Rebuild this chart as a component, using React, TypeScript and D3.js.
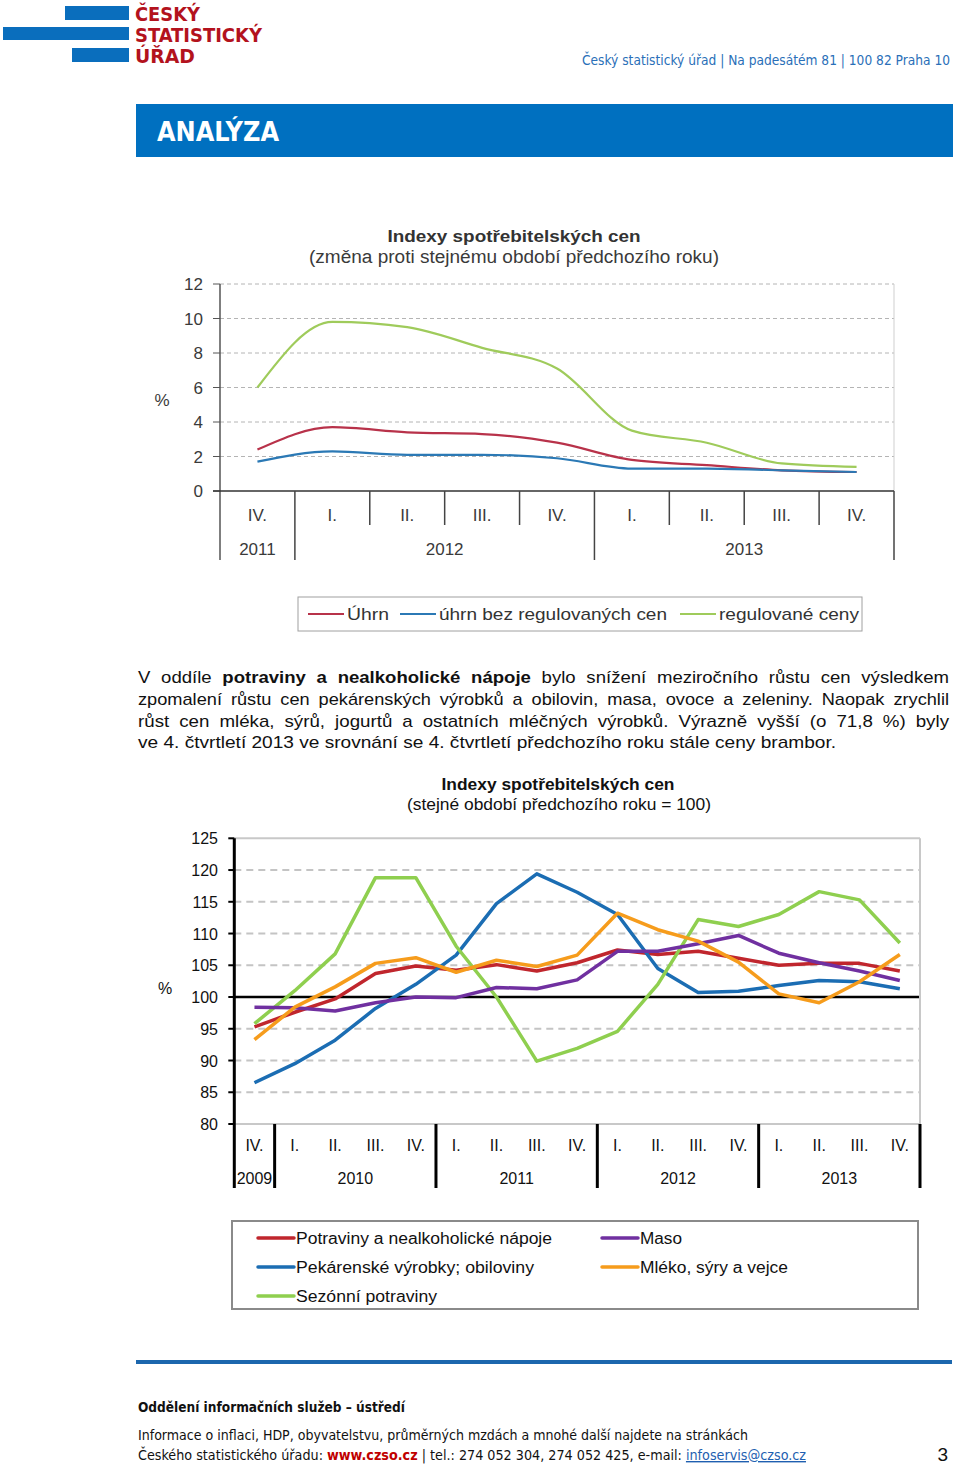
import { useEffect, useRef } from "react";
import * as d3 from "d3";

document.body.style.margin = "0";

// graf 1 – meziroční změna (%)
const quarters1 = ["IV.", "I.", "II.", "III.", "IV.", "I.", "II.", "III.", "IV."];
const years1 = ["2011", "2012", "2013"];
const yearSpans1 = [1, 4, 4];
const ticks1 = [0, 2, 4, 6, 8, 10, 12];
const uhrn = [2.4, 3.7, 3.4, 3.3, 2.8, 1.8, 1.5, 1.2, 1.1];
const uhrnBezReg = [1.7, 2.3, 2.1, 2.1, 1.9, 1.3, 1.3, 1.2, 1.1];
const regulovane = [6.0, 9.8, 9.5, 8.3, 7.1, 3.5, 2.8, 1.6, 1.4];
const names1 = ["Úhrn", "úhrn bez regulovaných cen", "regulované ceny"];
const colors1 = ["#b8324a", "#2b79b5", "#9fcb5b"];

// graf 2 – indexy (stejné období předchozího roku = 100)
const quarters2 = ["IV.", "I.", "II.", "III.", "IV.", "I.", "II.", "III.", "IV.", "I.", "II.", "III.", "IV.", "I.", "II.", "III.", "IV."];
const years2 = ["2009", "2010", "2011", "2012", "2013"];
const yearSpans2 = [1, 4, 4, 4, 4];
const ticks2 = [80, 85, 90, 95, 100, 105, 110, 115, 120, 125];
const potraviny = [95.3, 97.6, 99.7, 103.7, 104.9, 104.2, 105.1, 104.1, 105.4, 107.4, 106.7, 107.2, 106.1, 105.0, 105.3, 105.3, 104.1];
const pekarenske = [86.5, 89.5, 93.2, 98.2, 102.0, 106.6, 114.7, 119.4, 116.5, 113.0, 104.5, 100.7, 100.9, 101.8, 102.6, 102.4, 101.3];
const sezonni = [95.8, 101.0, 106.8, 118.8, 118.8, 108.0, 100.0, 89.9, 91.9, 94.6, 102.0, 112.2, 111.1, 113.0, 116.6, 115.3, 108.5];
const maso = [98.4, 98.3, 97.8, 99.1, 100.0, 99.9, 101.5, 101.3, 102.7, 107.2, 107.2, 108.4, 109.7, 106.9, 105.4, 104.1, 102.6];
const mleko = [93.3, 98.4, 101.6, 105.3, 106.2, 103.9, 105.8, 104.8, 106.6, 113.2, 110.6, 108.8, 105.5, 100.5, 99.1, 102.4, 106.7];
const names2 = ["Potraviny a nealkoholické nápoje", "Pekárenské výrobky; obiloviny", "Sezónní potraviny", "Maso", "Mléko, sýry a vejce"];
const colors2 = ["#c0262d", "#1b6db3", "#8fcf4f", "#7030a0", "#f69c1c"];

const FONT = "'Liberation Sans', Arial, sans-serif";
const NARROW = "'Liberation Sans Narrow', 'Arial Narrow', 'DejaVu Sans Condensed', sans-serif";

const App = () => {
  const svgRef = useRef<SVGSVGElement>(null);

  useEffect(() => {
    if (!svgRef.current) return;
    const svg = d3.select(svgRef.current);
    svg.selectAll("g.chart").remove();

    // zarovnání odstavce do bloku: část mezerami mezi slovy, zbytek roztažením
    svg.selectAll<SVGTextElement, unknown>("text.just").each(function () {
      const el = this;
      el.removeAttribute("textLength");
      el.setAttribute("word-spacing", "0");
      const natural = el.getComputedTextLength();
      const spaces = (el.textContent || "").split(" ").length - 1;
      const target = 811;
      if (spaces > 0 && target > natural) {
        el.setAttribute("word-spacing", String((0.45 * (target - natural)) / spaces));
      }
      el.setAttribute("textLength", String(target));
      el.setAttribute("lengthAdjust", "spacingAndGlyphs");
    });

    // ---------- graf 1 ----------
    {
      const g = svg.append("g").attr("class", "chart").style("font-family", FONT);
      const x0 = 220, x1 = 894;
      const x = d3.scaleBand<number>().domain(d3.range(quarters1.length)).range([x0, x1]);
      const y = d3.scaleLinear().domain([0, 12]).range([491, 284]);
      const bw = x.bandwidth();

      g.selectAll("line.grid")
        .data(ticks1.filter((t) => t > 0))
        .join("line")
        .attr("x1", x0).attr("x2", x1)
        .attr("y1", (d) => y(d)).attr("y2", (d) => y(d))
        .attr("stroke", "#b4b4b4")
        .attr("stroke-dasharray", "4,3");
      g.append("line").attr("x1", x1).attr("x2", x1).attr("y1", y(12)).attr("y2", y(0)).attr("stroke", "#cfcfcf");

      g.selectAll("line.ytick")
        .data(ticks1)
        .join("line")
        .attr("x1", x0 - 7).attr("x2", x0)
        .attr("y1", (d) => y(d)).attr("y2", (d) => y(d))
        .attr("stroke", "#555");
      g.selectAll("text.ylab")
        .data(ticks1)
        .join("text")
        .attr("x", 203).attr("y", (d) => y(d) + 6)
        .attr("text-anchor", "end")
        .attr("font-size", 17).attr("fill", "#3a3a3a")
        .text((d) => d);
      g.append("text").attr("x", 162).attr("y", 406).attr("text-anchor", "middle").attr("font-size", 17).attr("fill", "#3a3a3a").text("%");

      g.append("line").attr("x1", x0).attr("x2", x0).attr("y1", y(12)).attr("y2", 560).attr("stroke", "#555").attr("stroke-width", 1.5);
      g.append("line").attr("x1", x0 - 7).attr("x2", x1).attr("y1", y(0)).attr("y2", y(0)).attr("stroke", "#333").attr("stroke-width", 1.5);

      const yearBounds = d3.cumsum(yearSpans1);
      d3.range(1, quarters1.length + 1).forEach((i) => {
        const isYear = yearBounds.includes(i);
        g.append("line")
          .attr("x1", x0 + i * bw).attr("x2", x0 + i * bw)
          .attr("y1", y(0)).attr("y2", isYear ? 560 : 525)
          .attr("stroke", "#444").attr("stroke-width", 1.5);
      });
      g.selectAll("text.q")
        .data(quarters1)
        .join("text")
        .attr("x", (d, i) => x(i)! + bw / 2).attr("y", 521)
        .attr("text-anchor", "middle").attr("font-size", 17).attr("fill", "#3a3a3a")
        .text((d) => d);
      let start = 0;
      years1.forEach((yr, k) => {
        const mid = x0 + (start + yearSpans1[k] / 2) * bw;
        g.append("text").attr("x", mid).attr("y", 555).attr("text-anchor", "middle").attr("font-size", 17).attr("fill", "#3a3a3a").text(yr);
        start += yearSpans1[k];
      });

      const line = d3.line<number>()
        .x((d, i) => x(i)! + bw / 2)
        .y((d) => y(d))
        .curve(d3.curveMonotoneX);
      [uhrn, uhrnBezReg, regulovane].forEach((s, k) => {
        g.append("path").attr("d", line(s)).attr("fill", "none").attr("stroke", colors1[k]).attr("stroke-width", 2.2);
      });

      g.append("text").attr("x", 514).attr("y", 242).attr("text-anchor", "middle").attr("font-size", 17).attr("font-weight", "bold").attr("fill", "#333")
        .attr("textLength", 253).attr("lengthAdjust", "spacingAndGlyphs").text("Indexy spotřebitelských cen");
      g.append("text").attr("x", 514).attr("y", 263).attr("text-anchor", "middle").attr("font-size", 18).attr("fill", "#3a3a3a")
        .attr("textLength", 410).attr("lengthAdjust", "spacingAndGlyphs").text("(změna proti stejnému období předchozího roku)");

      // legenda
      g.append("rect").attr("x", 298).attr("y", 597).attr("width", 564).attr("height", 34).attr("fill", "white").attr("stroke", "#a0a0a0");
      const lx = [308, 400, 680];
      const tw = [42, 228, 140];
      names1.forEach((n, k) => {
        g.append("line").attr("x1", lx[k]).attr("x2", lx[k] + 36).attr("y1", 614).attr("y2", 614).attr("stroke", colors1[k]).attr("stroke-width", 2);
        g.append("text").attr("x", lx[k] + 39).attr("y", 620).attr("font-size", 17).attr("fill", "#333")
          .attr("textLength", tw[k]).attr("lengthAdjust", "spacingAndGlyphs").text(n);
      });
    }

    // ---------- graf 2 ----------
    {
      const g = svg.append("g").attr("class", "chart").style("font-family", FONT);
      const x0 = 234.3, x1 = 920;
      const x = d3.scaleBand<number>().domain(d3.range(quarters2.length)).range([x0, x1]);
      const y = d3.scaleLinear().domain([80, 125]).range([1124, 838.3]);
      const bw = x.bandwidth();

      g.selectAll("line.grid")
        .data(ticks2)
        .join("line")
        .attr("x1", x0).attr("x2", x1)
        .attr("y1", (d) => y(d)).attr("y2", (d) => y(d))
        .attr("stroke", (d) => (d === 100 ? "#000" : d === 80 || d === 125 ? "#c8c8c8" : "#c4c4c4"))
        .attr("stroke-width", (d) => (d === 100 ? 2.5 : 2))
        .attr("stroke-dasharray", (d) => (d === 100 || d === 80 || d === 125 ? null : "7,5"));
      g.append("line").attr("x1", x1).attr("x2", x1).attr("y1", y(125)).attr("y2", y(80)).attr("stroke", "#c8c8c8").attr("stroke-width", 2);

      g.selectAll("line.ytick")
        .data(ticks2)
        .join("line")
        .attr("x1", x0 - 6).attr("x2", x0)
        .attr("y1", (d) => y(d)).attr("y2", (d) => y(d))
        .attr("stroke", "#000").attr("stroke-width", 2);
      g.selectAll("text.ylab")
        .data(ticks2)
        .join("text")
        .attr("x", 218).attr("y", (d) => y(d) + 6)
        .attr("text-anchor", "end").attr("font-size", 16).attr("fill", "#111")
        .text((d) => d);
      g.append("text").attr("x", 165).attr("y", 994).attr("text-anchor", "middle").attr("font-size", 16).attr("fill", "#111").text("%");

      g.append("line").attr("x1", x0).attr("x2", x0).attr("y1", y(125)).attr("y2", 1188).attr("stroke", "#000").attr("stroke-width", 3);
      d3.cumsum(yearSpans2).forEach((b) => {
        g.append("line")
          .attr("x1", x0 + b * bw).attr("x2", x0 + b * bw)
          .attr("y1", y(80)).attr("y2", 1188)
          .attr("stroke", "#000").attr("stroke-width", 3);
      });
      g.selectAll("text.q")
        .data(quarters2)
        .join("text")
        .attr("x", (d, i) => x(i)! + bw / 2).attr("y", 1151)
        .attr("text-anchor", "middle").attr("font-size", 16).attr("fill", "#111")
        .text((d) => d);
      let start = 0;
      years2.forEach((yr, k) => {
        const mid = x0 + (start + yearSpans2[k] / 2) * bw;
        g.append("text").attr("x", mid).attr("y", 1184).attr("text-anchor", "middle").attr("font-size", 16).attr("fill", "#111").text(yr);
        start += yearSpans2[k];
      });

      const line = d3.line<number>()
        .x((d, i) => x(i)! + bw / 2)
        .y((d) => y(d));
      [potraviny, pekarenske, sezonni, maso, mleko].forEach((s, k) => {
        g.append("path").attr("d", line(s)).attr("fill", "none").attr("stroke", colors2[k])
          .attr("stroke-width", 3.5).attr("stroke-linejoin", "round");
      });

      g.append("text").attr("x", 558).attr("y", 790).attr("text-anchor", "middle").attr("font-size", 16).attr("font-weight", "bold").attr("fill", "#111")
        .attr("textLength", 233).attr("lengthAdjust", "spacingAndGlyphs").text("Indexy spotřebitelských  cen");
      g.append("text").attr("x", 559).attr("y", 810).attr("text-anchor", "middle").attr("font-size", 16).attr("fill", "#111")
        .attr("textLength", 304).attr("lengthAdjust", "spacingAndGlyphs").text("(stejné období předchozího roku = 100)");

      // legenda
      g.append("rect").attr("x", 232).attr("y", 1221).attr("width", 686).attr("height", 88).attr("fill", "white").attr("stroke", "#8a8a8a").attr("stroke-width", 2);
      const pos = [
        [258, 1238], [258, 1267], [258, 1296], [602, 1238], [602, 1267],
      ];
      const tw = [256, 238, 141, 42, 148];
      names2.forEach((n, k) => {
        const [lx, ly] = pos[k];
        g.append("line").attr("x1", lx).attr("x2", lx + 36).attr("y1", ly).attr("y2", ly).attr("stroke", colors2[k]).attr("stroke-width", 3.5).attr("stroke-linecap", "round");
        g.append("text").attr("x", lx + 38).attr("y", ly + 6).attr("font-size", 16).attr("fill", "#111")
          .attr("textLength", tw[k]).attr("lengthAdjust", "spacingAndGlyphs").text(n);
      });
    }
  }, []);

  return (
    <svg ref={svgRef} width={960} height={1465} style={{ display: "block", background: "white" }}>
      {/* logo */}
      <rect x={65} y={6} width={64} height={14} fill="#0a6ebd" />
      <rect x={3} y={27} width={126} height={13} fill="#0a6ebd" />
      <rect x={72} y={48} width={57} height={14} fill="#0a6ebd" />
      <g fill="#b3121d" fontFamily={NARROW} fontWeight="bold" fontSize={20}>
        <text x={135} y={21} textLength={65} lengthAdjust="spacingAndGlyphs">ČESKÝ</text>
        <text x={135} y={42} textLength={127} lengthAdjust="spacingAndGlyphs">STATISTICKÝ</text>
        <text x={135} y={63} textLength={60} lengthAdjust="spacingAndGlyphs">ÚŘAD</text>
      </g>
      <text x={582} y={65} fill="#2a6fb8" fontFamily={NARROW} fontSize={14} textLength={368} lengthAdjust="spacingAndGlyphs">
        Český statistický úřad | Na padesátém 81 | 100 82  Praha 10
      </text>

      {/* banner */}
      <rect x={136} y={104} width={817} height={53} fill="#0070c0" />
      <text x={157} y={141} fill="white" fontFamily={NARROW} fontWeight="bold" fontSize={27} textLength={122} lengthAdjust="spacingAndGlyphs">
        ANALÝZA
      </text>

      {/* odstavec */}
      <g fontFamily={FONT} fontSize={17} fill="#111">
        <text className="just" x={138} y={683}>
          V oddíle <tspan fontWeight="bold">potraviny a nealkoholické nápoje</tspan> bylo snížení meziročního růstu cen výsledkem
        </text>
        <text className="just" x={138} y={705}>
          zpomalení růstu cen pekárenských výrobků a obilovin, masa, ovoce a zeleniny. Naopak zrychlil
        </text>
        <text className="just" x={138} y={727}>
          růst cen mléka, sýrů, jogurtů a ostatních mléčných výrobků. Výrazně vyšší (o 71,8 %) byly
        </text>
        <text x={138} y={748} textLength={698} lengthAdjust="spacingAndGlyphs">
          ve 4. čtvrtletí 2013 ve srovnání se 4. čtvrtletí předchozího roku stále ceny brambor.
        </text>
      </g>

      {/* zápatí */}
      <rect x={136} y={1360} width={816} height={4} fill="#1c67ad" />
      <g fontFamily={NARROW} fontSize={14} fill="#111">
        <text x={138} y={1412} fontWeight="bold" textLength={267} lengthAdjust="spacingAndGlyphs">
          Oddělení informačních služeb – ústředí
        </text>
        <text x={138} y={1440} textLength={610} lengthAdjust="spacingAndGlyphs">
          Informace o inflaci, HDP, obyvatelstvu, průměrných mzdách a mnohé další najdete na stránkách
        </text>
        <text x={138} y={1460} textLength={668} lengthAdjust="spacingAndGlyphs">
          Českého statistického úřadu: <tspan fill="#c00000" fontWeight="bold">www.czso.cz</tspan>  |  tel.: 274 052 304, 274 052 425, e-mail:{" "}
          <tspan fill="#1f5fb0" textDecoration="underline">infoservis@czso.cz</tspan>
        </text>
        <text x={948} y={1461} textAnchor="end" fontSize={19} fontFamily={FONT}>3</text>
      </g>
    </svg>
  );
};

export default App;
